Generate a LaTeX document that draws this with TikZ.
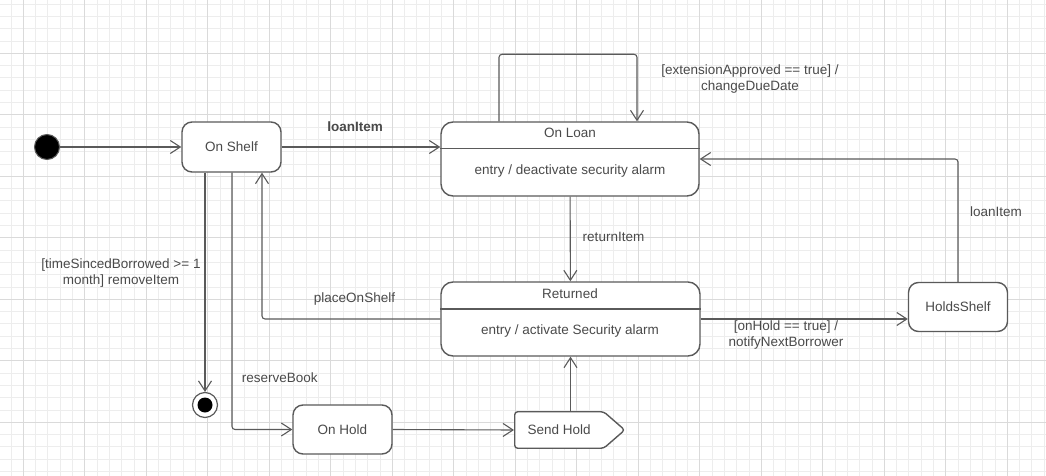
\documentclass[tikz,border=0pt]{standalone}
\usepackage{fontspec}
\setmainfont{Liberation Sans}
\usetikzlibrary{arrows.meta,shapes.symbols,positioning}
\definecolor{linegray}{HTML}{5A5A5A}
\definecolor{textgray}{HTML}{4A4A4A}
\definecolor{gridminor}{HTML}{EDEDED}
\definecolor{gridmajor}{HTML}{DADADA}
\tikzset{
  state/.style={draw=linegray, line width=1.4pt, rounded corners=10pt, fill=white,
    text=textgray, font=\fontsize{13.5}{16}\selectfont, inner sep=0pt},
  trans/.style={draw=linegray, line width=1.1pt, rounded corners=3pt,
    -{Straight Barb[length=10pt,width=13pt,line width=1.1pt]}},
  lbl/.style={text=textgray, font=\fontsize{13.5}{16}\selectfont, align=center,
    inner sep=0pt, text height=10pt, text depth=3pt},
}
\begin{document}
\begin{tikzpicture}[x=1pt,y=-1pt]
  \useasboundingbox (0,0) rectangle (1046,476);
  \fill[white] (0,0) rectangle (1046,476);

  % Grid
  \foreach \k in {-1,...,83}
    \draw[gridminor, line width=0.9pt] ({23.3+12.3*\k},0) -- ++(0,476);
  \foreach \k in {-34,...,4}
    \draw[gridminor, line width=0.9pt] (0,{422.3+12.3*\k}) -- ++(1046,0);
  \foreach \k in {0,...,16}
    \draw[gridmajor, line width=0.9pt] ({23.3+61.5*\k},0) -- ++(0,476);
  \foreach \k in {-6,...,0}
    \draw[gridmajor, line width=0.9pt] (0,{422.3+61.5*\k}) -- ++(1046,0);

  % States
  \node[circle, fill=black, draw=linegray, line width=1pt, minimum size=25pt, inner sep=0pt] (start) at (47,147) {};
  \node[state, minimum width=99pt, minimum height=50pt] (shelf) at (231.5,147) {On Shelf};
  \node[state, minimum width=258pt, minimum height=74pt, rounded corners=12pt] (loan) at (570,159) {};
  \node[lbl] (loantitle) at (570,134) {On Loan};
  \node[lbl] (loanentry) at (570,171) {entry / deactivate security alarm};
  \coordinate (loandiv) at (570,148.5);
  \node[state, minimum width=259pt, minimum height=74pt, rounded corners=12pt] (ret) at (570.5,319) {};
  \node[lbl] (rettitle) at (570,294.5) {Returned};
  \node[lbl] (retentry) at (570,331) {entry / activate Security alarm};
  \coordinate (retdiv) at (570,309);
  \node[state, minimum width=99pt, minimum height=49pt] (holds) at (958,307) {HoldsShelf};
  \node[state, minimum width=99pt, minimum height=49pt] (hold) at (342.5,429.5) {On Hold};
  \node[state, signal, signal to=east, signal pointer angle=82, rounded corners=3pt,
    minimum height=36.5pt, inner xsep=13pt, anchor=west] (send) at (514,430) {Send Hold};
  \node[circle, draw=linegray, fill=white, line width=1.2pt, minimum size=25pt, inner sep=0pt] (final) at (205,405) {};
  \node[circle, fill=black, minimum size=15pt, inner sep=0pt] (finaldot) at (final) {};

  % Dividers
  \draw[linegray, line width=1.4pt] (loan.west |- loandiv) -- (loan.east |- loandiv);
  \draw[linegray, line width=1.4pt] (ret.west |- retdiv) -- (ret.east |- retdiv);

  % Transitions
  \draw[trans] (start) -- (shelf);
  \draw[trans] (shelf) -- (loan.west |- shelf);
  \draw[trans] ([xshift=-71pt]loan.north) -- ++(0,-67) -| ([xshift=67pt]loan.north);
  \draw[trans] (loan) -- (ret);
  \draw[trans] (ret.west) -| ([xshift=30.5pt]shelf.south);
  \draw[trans] (final |- shelf.south) -- (final);
  \draw[trans] ([xshift=0.5pt]shelf.south) |- (hold.west);
  \draw[trans] (hold.east) -- (send.west);
  \draw[trans] (ret.south |- send.north) -- (ret.south);
  \draw[trans] (ret.east) -- (holds.west |- ret.east);
  \draw[trans] (holds.north) |- (loan.east);

  % Labels
  \node[lbl, font=\fontsize{13.5}{16}\selectfont\bfseries] (lloan) at (355,128) {loanItem};
  \node[lbl, text height=, text depth=] (lext) at (750,79) {[extensionApproved == true] /\\changeDueDate};
  \node[lbl] (lreturn) at (613.5,238) {returnItem};
  \node[lbl] (lplace) at (354.5,298.5) {placeOnShelf};
  \node[lbl, text height=, text depth=] (lremove) at (121,273.5) {[timeSincedBorrowed >= 1\\month] removeItem};
  \node[lbl] (lreserve) at (279.7,379) {reserveBook};
  \node[lbl, text height=, text depth=] (lonhold) at (786,335.5) {[onHold == true] /\\notifyNextBorrower};
  \node[lbl] (lholds) at (996,213) {loanItem};
\end{tikzpicture}
\end{document}
